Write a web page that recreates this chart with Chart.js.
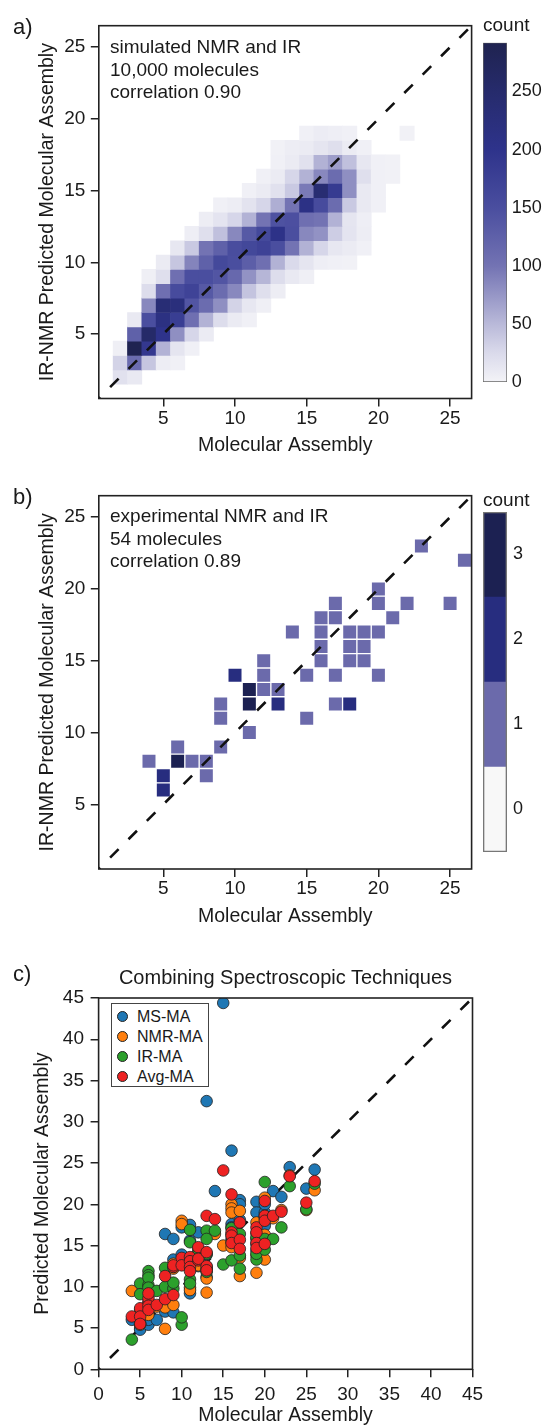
<!DOCTYPE html>
<html>
<head>
<meta charset="utf-8">
<title>Molecular assembly predictions</title>
<script src="https://cdn.jsdelivr.net/npm/chart.js@4.4.1/dist/chart.umd.min.js"></script>
<style>
  html, body { margin:0; padding:0; background:#fff; }
  #page { position:relative; width:547px; height:1426px; overflow:hidden; font-family:"Liberation Sans", Arial, sans-serif; color:#1a1a1a; }
  #page canvas { position:absolute; }
  .plab { position:absolute; left:13px; font-size:22px; line-height:22px; }
  .note { position:absolute; left:110px; font-size:19px; line-height:22.5px; white-space:nowrap; }
  .cbt { position:absolute; left:483px; font-size:19px; line-height:20px; }
  .ttl { position:absolute; left:85px; width:401px; text-align:center; font-size:20px; line-height:24px; white-space:nowrap; }
  .legend { position:absolute; left:111px; top:1003px; width:98px; height:84px; border:1px solid #444; box-sizing:border-box; background:#fff; }
  .legend .it { position:absolute; left:25px; font-size:16px; line-height:18px; white-space:nowrap; }
  .legend .dot { position:absolute; left:-20px; top:3px; width:11px; height:11px; border-radius:50%; border:1px solid #222; box-sizing:border-box; }
</style>
</head>
<body>
<div id="page">
  <canvas id="chartA" width="480" height="470" style="left:0;top:0;width:480px;height:470px"></canvas>
  <canvas id="cbarA" width="77" height="400" style="left:470px;top:0;width:77px;height:400px"></canvas>
  <canvas id="chartB" width="480" height="470" style="left:0;top:470px;width:480px;height:470px"></canvas>
  <canvas id="cbarB" width="77" height="400" style="left:470px;top:470px;width:77px;height:400px"></canvas>
  <canvas id="chartC" width="500" height="500" style="left:0;top:940px;width:500px;height:500px"></canvas>

  <div class="plab" style="top:16px">a)</div>
  <div class="plab" style="top:486px">b)</div>
  <div class="plab" style="top:963px">c)</div>

  <div class="note" style="top:36px">simulated NMR and IR<br>10,000 molecules<br>correlation 0.90</div>
  <div class="note" style="top:505px">experimental NMR and IR<br>54 molecules<br>correlation 0.89</div>

  <div class="cbt" style="top:15px">count</div>
  <div class="cbt" style="top:490px">count</div>

  <div class="ttl" style="top:965px">Combining Spectroscopic Techniques</div>
  <div class="legend">
    <div class="it" style="top:3.7px"><span class="dot" style="background:#1f77b4"></span>MS-MA</div>
    <div class="it" style="top:23.7px"><span class="dot" style="background:#ff7f0e"></span>NMR-MA</div>
    <div class="it" style="top:43.7px"><span class="dot" style="background:#2ca02c"></span>IR-MA</div>
    <div class="it" style="top:63.5px"><span class="dot" style="background:#ee2222"></span>Avg-MA</div>
  </div>
</div>
<script>
// ====================== DATA ======================
const ticksAB = [5, 10, 15, 20, 25];
const ticksC = [0, 5, 10, 15, 20, 25, 30, 35, 40, 45];

// Panel a: simulated 2-D histogram; columns = x bins in simColX, rows = y bins in simRowY
const simColX = [1,2,3,4,5,6,7,8,9,10,11,12,13,14,15,16,17,18,19,20,21,22,23];
const simRowY = [2,3,4,5,6,7,8,9,10,11,12,13,14,15,16,17,18,19];
const simCounts = [
  [0,18,10,0,0,0,0,0,0,0,0,0,0,0,0,0,0,0,0,0,0,0,0],
  [0,30,110,40,6,3,0,0,0,0,0,0,0,0,0,0,0,0,0,0,0,0,0],
  [0,4,290,190,55,14,3,0,0,0,0,0,0,0,0,0,0,0,0,0,0,0,0],
  [0,0,125,255,200,80,28,8,0,0,0,0,0,0,0,0,0,0,0,0,0,0,0],
  [0,0,10,150,215,180,105,55,22,8,3,0,0,0,0,0,0,0,0,0,0,0,0],
  [0,0,0,85,235,225,140,110,80,30,12,4,0,0,0,0,0,0,0,0,0,0,0],
  [0,0,0,22,105,155,170,135,110,85,42,20,6,0,0,0,0,0,0,0,0,0,0],
  [0,0,0,4,20,105,150,150,140,115,78,52,22,10,4,0,0,0,0,0,0,0,0],
  [0,0,0,0,8,40,88,125,160,150,128,105,55,25,14,5,3,2,0,0,0,0,0],
  [0,0,0,0,0,12,38,100,125,152,162,172,150,100,55,28,12,8,3,0,0,0,0],
  [0,0,0,0,0,0,5,20,45,85,135,160,205,150,85,78,35,15,6,0,0,0,0],
  [0,0,0,0,0,0,0,6,15,28,55,100,145,148,105,100,55,14,5,0,0,0,0],
  [0,0,0,0,0,0,0,0,3,6,16,28,58,100,210,155,110,38,10,3,0,0,0],
  [0,0,0,0,0,0,0,0,0,0,3,8,18,38,95,240,185,80,10,3,0,0,0],
  [0,0,0,0,0,0,0,0,0,0,0,3,8,28,55,85,110,80,20,3,2,0,0],
  [0,0,0,0,0,0,0,0,0,0,0,0,3,8,18,55,70,45,12,3,2,0,0],
  [0,0,0,0,0,0,0,0,0,0,0,0,2,6,8,14,20,8,3,0,0,0,0],
  [0,0,0,0,0,0,0,0,0,0,0,0,0,0,3,7,5,3,0,0,0,2,0]
];
const simCbarTicks = [0, 50, 100, 150, 200, 250];
const simCbarMax = 292;

// Panel b: experimental 2-D histogram cells
const expCellX =     [4,5,5,6,6,7,8,8,9,9,9,10,11,11,11,12,12,12,13,13,14,15,15,16,16,16,16,17,17,17,17,18,18,18,18,19,19,19,20,20,20,20,21,22,23,25,26];
const expCellY =     [8,7,6,9,8,8,8,7,9,12,11,14,13,12,10,15,14,13,13,12,17,14,11,18,17,16,15,19,18,14,12,17,16,15,12,17,16,15,20,19,17,14,18,19,23,19,22];
const expCellCount = [1,2,2,1,3,1,1,1,1,1,1,2,3,3,1,1,1,1,1,2,1,1,1,1,1,1,1,1,1,1,1,1,1,1,2,1,1,1,1,1,1,1,1,1,1,1,1];
const expCbarTicks = [0, 1, 2, 3];

// Panel c: actual MA of each molecule and the four predictions
const molMA   = [4, 5,5,5, 6,6,6,6,6, 7, 8,8, 9,9,9, 10,10, 11,11,11,11, 12,12,12, 13,13,13,13, 14, 15, 16,16,16,16, 17,17,17, 19,19,19,19, 20,20,20,20, 21, 22, 23, 25, 26];
const msPred  = [6.0, 5.0,5.8,4.8, 5.6,6.2,9.0,5.4,6.0, 6.0, 16.4,7.0, 15.8,6.9,13.3, 17.2,13.9, 17.5,15.6,9.2,12.8, 16.6,13.6,12.5, 32.5,12.4,11.2,13.9, 21.6, 44.4, 26.5,17.6,17.2,15.8, 20.5,20.0,18.1, 20.3,19.0,15.2,14.4, 17.8,19.0,20.0,17.4, 21.6, 20.9, 24.5, 21.9, 24.2];
const nmrPred = [9.5, 7.2,5.4,6.2, 6.9,7.3,8.0,6.6,7.6, 7.6, 7.5,4.9, 12.8,7.8,12.2, 18.0,17.6, 9.9,12.8,12.5,9.6, 12.9,12.6,14.2, 9.3,11.0,12.2,12.0, 16.4, 15.0, 20.0,19.5,19.0,14.8, 19.2,11.3,13.5, 17.8,16.5,11.7,13.8, 20.8,18.6,16.3,13.3, 18.3, 19.3, 23.5, 19.3, 21.7];
const irPred  = [3.6, 10.4,9.1,5.6, 11.9,11.4,10.2,11.1,9.9, 9.5, 10.0,12.3, 9.8,10.5,12.4, 5.4,6.3, 16.9,10.9,15.4,10.4, 14.6,13.6,14.0, 14.0,16.8,15.8,11.8, 16.8, 12.7, 17.1,13.2,16.3,15.4, 13.8,16.4,12.2, 13.3,14.0,15.8,16.0, 22.7,18.3,15.8,14.5, 15.8, 17.2, 22.2, 19.4, 22.5];
const avgPred = [6.4, 7.4,6.4,5.5, 8.2,8.6,9.2,7.7,7.2, 7.8, 11.3,8.5, 12.4,9.0,12.6, 13.5,12.6, 13.6,13.1,12.4,11.9, 14.8,13.2,13.4, 18.6,14.2,12.5,12.0, 18.2, 24.1, 21.2,16.6,16.2,15.3, 17.8,15.7,14.6, 17.2,16.6,15.3,14.7, 20.4,18.6,18.0,15.2, 18.6, 19.1, 23.4, 20.2, 22.8];

// ====================== STYLE ======================
const cmapAt    = [0, 25, 50, 100, 150, 200, 250, 292];
const cmapColor = ['#f3f3f7', '#dadaeb', '#b9b9d9', '#7373b3', '#4a4e9f', '#2e338b', '#262b6c', '#1f2350'];
const expColors = ['#f8f8f8', '#6b6aab', '#272d7f', '#1c2152'];
const INK = '#1a1a1a';

Chart.defaults.font.family = '"Liberation Sans", Arial, sans-serif';
Chart.defaults.color = INK;

function hex2rgb(h) { const n = parseInt(h.slice(1), 16); return [(n >> 16) & 255, (n >> 8) & 255, n & 255]; }
function cmap(v) {
  if (v <= cmapAt[0]) return cmapColor[0];
  for (let i = 1; i < cmapAt.length; i++) {
    if (v <= cmapAt[i]) {
      const t = (v - cmapAt[i - 1]) / (cmapAt[i] - cmapAt[i - 1]);
      const a = hex2rgb(cmapColor[i - 1]), b = hex2rgb(cmapColor[i]);
      return 'rgb(' + a.map((c, k) => Math.round(c + (b[k] - c) * t)).join(',') + ')';
    }
  }
  return cmapColor[cmapColor.length - 1];
}

const framePlugin = {
  id: 'frame',
  afterDraw(chart) {
    const {ctx, chartArea: a} = chart;
    ctx.save();
    ctx.strokeStyle = '#222';
    ctx.lineWidth = 1.6;
    ctx.strokeRect(a.left, a.top, a.right - a.left, a.bottom - a.top);
    ctx.restore();
  }
};

function frameScale(pos, min, max, ticks, title, size, tickPad, titlePad) {
  const horiz = pos === 'bottom';
  return {
    type: 'linear', position: pos, min, max, bounds: 'data', offset: false,
    afterBuildTicks: s => { s.ticks = ticks.map(v => ({value: v})); },
    afterFit: s => { if (horiz) s.height = size; else s.width = size; },
    grid: {display: true, offset: false, drawOnChartArea: false, drawTicks: true, tickLength: 8,
           tickWidth: 1.5, tickColor: '#222', lineWidth: 1.5, color: '#222'},
    border: {display: false},
    ticks: {color: INK, font: {size: 19}, padding: tickPad, autoSkip: false, maxRotation: 0, minRotation: 0},
    title: {display: true, text: title, color: INK, font: {size: 19.5},
            padding: horiz ? {top: 0, bottom: titlePad} : {top: titlePad, bottom: 0}}
  };
}

function diagonal(lo, hi) {
  return {type: 'line', data: [{x: lo, y: lo}, {x: hi, y: hi}], borderColor: '#111', borderWidth: 2.6,
          borderDash: [12, 14], borderDashOffset: 10, pointRadius: 0, fill: false, order: 0};
}

// ====================== PANEL A ======================
const heatA = [], heatAColors = [];
simRowY.forEach((yv, r) => simColX.forEach((xv, c) => {
  const n = simCounts[r][c];
  if (n > 0) { heatA.push({x: xv, y: [yv - 0.5, yv + 0.5]}); heatAColors.push(cmap(n)); }
}));

new Chart(document.getElementById('chartA'), {
  type: 'bar',
  data: {datasets: [
    diagonal(0.5, 26.5),
    {type: 'bar', data: heatA, backgroundColor: heatAColors, borderWidth: 0, grouped: false,
     barPercentage: 1, categoryPercentage: 1, order: 1}
  ]},
  options: {
    responsive: false, animation: false, devicePixelRatio: 1,
    layout: {padding: {left: 0, right: 8.4, top: 25.7, bottom: 0}},
    plugins: {legend: {display: false}, tooltip: {enabled: false}},
    scales: {
      x: frameScale('bottom', 0.5, 26.5, ticksAB, 'Molecular Assembly', 71.5, 0.4, 12.3),
      y: frameScale('left', 0.5, 26.5, ticksAB, 'IR-NMR Predicted Molecular Assembly', 98.8, 5.4, 35.8)
    }
  },
  plugins: [framePlugin]
});

new Chart(document.getElementById('cbarA'), {
  type: 'bar',
  data: {labels: ['count'], datasets: [{
    data: [[0, simCbarMax]],
    backgroundColor: c => {
      const area = c.chart.chartArea; if (!area) return '#ccc';
      const g = c.chart.ctx.createLinearGradient(0, area.bottom, 0, area.top);
      cmapAt.forEach((v, i) => g.addColorStop(v / simCbarMax, cmapColor[i]));
      return g;
    },
    borderColor: '#666', borderWidth: 1, borderSkipped: false, barPercentage: 1, categoryPercentage: 1
  }]},
  options: {
    responsive: false, animation: false, devicePixelRatio: 1,
    layout: {padding: {left: 13, right: 0, top: 42.7, bottom: 18}},
    plugins: {legend: {display: false}, tooltip: {enabled: false}},
    scales: {
      x: {type: 'category', display: false, offset: true},
      y: {type: 'linear', position: 'right', min: 0, max: simCbarMax, bounds: 'data',
          afterBuildTicks: s => { s.ticks = simCbarTicks.map(v => ({value: v})); },
          afterFit: s => { s.width = 40; },
          grid: {display: false, drawTicks: false}, border: {display: false},
          ticks: {color: INK, font: {size: 18}, padding: 4.7}}
    }
  }
});

// ====================== PANEL B ======================
const heatB = expCellX.map((xv, i) => ({x: xv, y: [expCellY[i] - 0.5, expCellY[i] + 0.5]}));
const heatBColors = expCellCount.map(n => expColors[n]);

new Chart(document.getElementById('chartB'), {
  type: 'bar',
  data: {datasets: [
    diagonal(0.5, 26.5),
    {type: 'bar', data: heatB, backgroundColor: heatBColors, borderColor: 'rgba(255,255,255,0.28)',
     borderWidth: 1, borderSkipped: false, grouped: false, barPercentage: 1, categoryPercentage: 1, order: 1}
  ]},
  options: {
    responsive: false, animation: false, devicePixelRatio: 1,
    layout: {padding: {left: 0, right: 8.4, top: 25.7, bottom: 0}},
    plugins: {legend: {display: false}, tooltip: {enabled: false}},
    scales: {
      x: frameScale('bottom', 0.5, 26.5, ticksAB, 'Molecular Assembly', 71, 0.4, 11.6),
      y: frameScale('left', 0.5, 26.5, ticksAB, 'IR-NMR Predicted Molecular Assembly', 98.8, 5.4, 35.8)
    }
  },
  plugins: [framePlugin]
});

new Chart(document.getElementById('cbarB'), {
  type: 'bar',
  data: {labels: ['count'], datasets: [
    {data: [[-0.5, 3.5]], backgroundColor: 'rgba(0,0,0,0)', borderColor: '#777', borderWidth: 1,
     borderSkipped: false, grouped: false, barPercentage: 1, categoryPercentage: 1, order: 0}
  ].concat(expCbarTicks.map(k => ({
     data: [[k - 0.5, k + 0.5]], backgroundColor: expColors[k], borderWidth: 0,
     grouped: false, barPercentage: 1, categoryPercentage: 1, order: 1})))},
  options: {
    responsive: false, animation: false, devicePixelRatio: 1,
    layout: {padding: {left: 13, right: 0, top: 42, bottom: 18}},
    plugins: {legend: {display: false}, tooltip: {enabled: false}},
    scales: {
      x: {type: 'category', display: false, offset: true},
      y: {type: 'linear', position: 'right', min: -0.5, max: 3.5, bounds: 'data',
          afterBuildTicks: s => { s.ticks = expCbarTicks.map(v => ({value: v})); },
          afterFit: s => { s.width = 40; },
          grid: {display: false, drawTicks: false}, border: {display: false},
          ticks: {color: INK, font: {size: 18}, padding: 6}}
    }
  }
});

// ====================== PANEL C ======================
const pts = arr => molMA.map((m, i) => ({x: m, y: arr[i]}));
function series(arr, color, order) {
  return {type: 'scatter', data: pts(arr), backgroundColor: color, borderColor: '#222', borderWidth: 0.8,
          pointRadius: 5.8, pointHoverRadius: 5.8, order};
}

new Chart(document.getElementById('chartC'), {
  type: 'scatter',
  data: {datasets: [
    Object.assign(diagonal(0, 45), {order: 5}),
    series(msPred, '#1f77b4', 4),
    series(nmrPred, '#ff7f0e', 3),
    series(irPred, '#2ca02c', 2),
    series(avgPred, '#ee2222', 1)
  ]},
  options: {
    responsive: false, animation: false, devicePixelRatio: 1,
    layout: {padding: {left: 0, right: 27.5, top: 58, bottom: 0}},
    plugins: {legend: {display: false}, tooltip: {enabled: false}},
    scales: {
      x: frameScale('bottom', 0, 45, ticksC, 'Molecular Assembly', 70.7, 5.8, 12.3),
      y: frameScale('left', 0, 45, ticksC, 'Predicted Molecular Assembly', 98.6, 6.6, 31.3)
    }
  },
  plugins: [framePlugin]
});
</script>
</body>
</html>
